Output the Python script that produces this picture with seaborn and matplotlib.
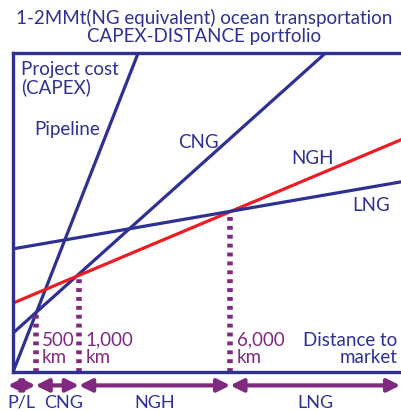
import numpy as np
import pandas as pd
import seaborn as sns
import matplotlib.pyplot as plt

# data (abstract units: x = distance 0-100, y = capex 0-100)
modes = ['Pipeline', 'CNG', 'NGH', 'LNG']
fixed_cost = [0.0, 12.2, 21.6, 38.6]      # intercept
var_cost = [3.1, 1.09, 0.512, 0.21]       # slope per distance unit
breakeven_x = [5.8, 17.0, 56.0]
breakeven_labels = ['500\nkm', '1,000\nkm', '6,000\nkm']
zone_edges = [-1.3, 5.8, 17.0, 56.0, 99.8]
zone_labels = ['P/L', 'CNG', 'NGH', 'LNG']
zone_label_x = [2.3, 13.1, 36.5, 78.0]

navy = '#2E3192'
red = '#ED1C24'
purple = '#7F2A7F'

sns.set_style('white')
plt.rcParams['font.family'] = ['Lato', 'DejaVu Sans']

x = np.linspace(0, 100, 201)
rows = []
for m, a, b in zip(modes, fixed_cost, var_cost):
    for xi in x:
        rows.append((m, xi, a + b * xi))
df = pd.DataFrame(rows, columns=['mode', 'dist', 'cost'])

fig = plt.figure(figsize=(4.01, 4.12), dpi=100)
ax = fig.add_axes([13 / 401, 40 / 412, 388 / 401, 319 / 412])
pal = {'Pipeline': navy, 'CNG': navy, 'NGH': red, 'LNG': navy}
sns.lineplot(data=df, x='dist', y='cost', hue='mode', palette=pal,
             linewidth=2.3, legend=False, ax=ax)
ax.set_xlim(0, 100)
ax.set_ylim(0, 100)
ax.set_xlabel('')
ax.set_ylabel('')
ax.set_xticks([])
ax.set_yticks([])
ax.spines['right'].set_visible(False)
for s in ['left', 'top', 'bottom']:
    ax.spines[s].set_color(navy)
    ax.spines[s].set_linewidth(2.4)

fs = 13.5

# dotted breakeven lines
for i, bx in enumerate(breakeven_x):
    top = fixed_cost[i] + var_cost[i] * bx
    top = min(top, fixed_cost[i + 1] + var_cost[i + 1] * bx)
    ax.plot([bx, bx], [0, top], color=purple, linewidth=4,
            linestyle=(0, (0.7, 0.9)))
    ax.text(bx + 1.7, 7.2, breakeven_labels[i], color=purple, fontsize=fs,
            va='center', ha='left', linespacing=1.05)

ax.text(99, 7.2, 'Distance to\nmarket', color=navy, fontsize=fs,
        ha='right', va='center', linespacing=1.05)
ax.text(2, 92, 'Project cost\n(CAPEX)', color=navy, fontsize=fs,
        ha='left', va='center', linespacing=1.0)
ax.text(5.5, 76, 'Pipeline', color=navy, fontsize=fs, ha='left', va='center')
ax.text(47.7, 71.8, 'CNG', color=navy, fontsize=fs, ha='center', va='center')
ax.text(77.3, 66.8, 'NGH', color=navy, fontsize=fs, ha='center', va='center')
ax.text(92.3, 52.3, 'LNG', color=navy, fontsize=fs, ha='center', va='center')

# zone arrows below the axis
trans = ax.get_xaxis_transform()
for i, lab in enumerate(zone_labels):
    x0, x1 = zone_edges[i], zone_edges[i + 1]
    ax.annotate('', xy=(x1, -0.042), xytext=(x0, -0.042), xycoords=trans,
                textcoords=trans, annotation_clip=False,
                arrowprops=dict(arrowstyle='<|-|>', color=purple, lw=3,
                                mutation_scale=19, shrinkA=0, shrinkB=0))
    ax.text(zone_label_x[i], -0.097, lab, transform=trans, color=navy,
            fontsize=13, ha='center', va='center', clip_on=False)

fig.text(0.51, 0.935, '1-2MMt(NG equivalent) ocean transportation\nCAPEX-DISTANCE portfolio',
         color=navy, fontsize=13.5, ha='center', va='center', linespacing=1.05)

fig.savefig('out.png', dpi=100)
